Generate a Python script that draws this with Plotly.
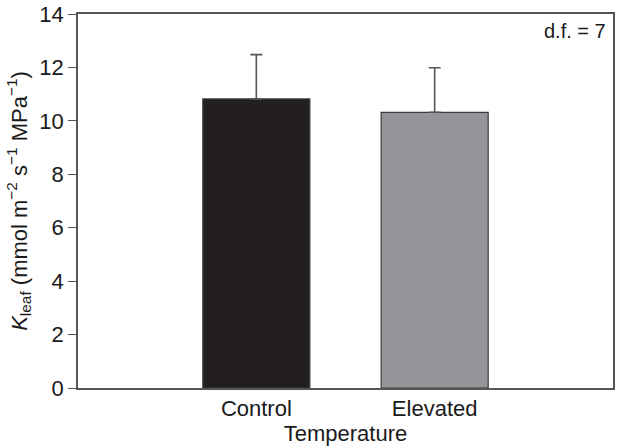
import plotly.graph_objects as go

categories = ["Control", "Elevated"]
kleaf = [10.82, 10.32]
kleaf_se = [1.66, 1.67]
bar_colors = ["#231f20", "#939598"]
y_ticks = [0, 2, 4, 6, 8, 10, 12, 14]

FONT = "Liberation Sans, Arial, Helvetica, sans-serif"
AX = "#555555"
TXT = "#1a1a1a"

fig = go.Figure()
fig.add_trace(go.Bar(
    x=[0, 1], y=kleaf, width=0.6,
    marker=dict(color=bar_colors, line=dict(color="#3a3a3a", width=1.2)),
    error_y=dict(type="data", array=kleaf_se, arrayminus=[0, 0], symmetric=False,
                 color=AX, thickness=1.6, width=6),
    showlegend=False,
))

fig.update_layout(
    width=617, height=448,
    margin=dict(l=78, r=2, t=12, b=60),
    paper_bgcolor="white", plot_bgcolor="white",
    font=dict(family=FONT, size=22, color=TXT),
    xaxis=dict(
        range=[-1, 2], tickvals=[0, 1], ticktext=categories,
        showline=True, linecolor=AX, linewidth=1.5, mirror=True,
        ticks="", showgrid=False, zeroline=False,
        tickfont=dict(size=22, color=TXT),
        title=dict(text="Temperature", font=dict(size=22, color=TXT), standoff=4),
    ),
    yaxis=dict(
        range=[0, 14], tickvals=y_ticks,
        showline=True, linecolor=AX, linewidth=1.5, mirror=True,
        ticks="outside", ticklen=8, tickcolor=AX, tickwidth=1.2,
        showgrid=False, zeroline=False, ticklabeloverflow="allow",
        tickfont=dict(size=22, color=TXT),
        title=dict(text="<i>K</i><sub>leaf</sub> (mmol m<sup>−2</sup> s<sup>−1</sup> MPa<sup>−1</sup>)",
                   font=dict(size=22, color=TXT), standoff=6),
    ),
    annotations=[dict(
        text="d.f. = 7", xref="paper", yref="paper", x=0.99, y=0.99,
        xanchor="right", yanchor="top", showarrow=False,
        font=dict(size=20, color=TXT),
    )],
)

fig.write_html("out.html", config={"displayModeBar": False},
               post_script="document.body.style.margin='0';document.body.style.overflow='hidden';")
